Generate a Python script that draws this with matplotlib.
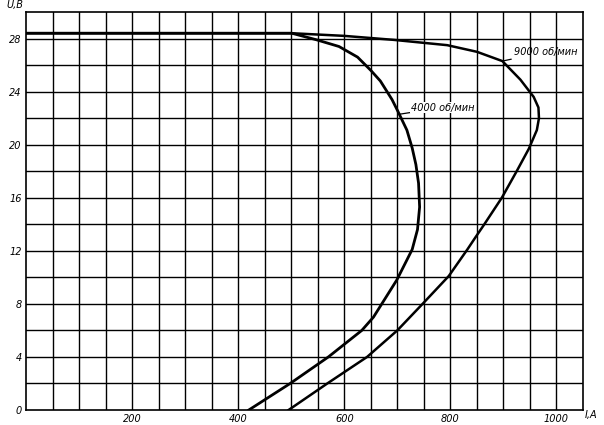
import matplotlib
matplotlib.use('Agg')
import matplotlib.pyplot as plt
import numpy as np

# Current I (A) and voltage U (V)
i_4000 = [0, 300, 501, 548, 590, 625, 650, 668, 690, 700, 718, 728, 735, 740, 742,
          738, 728, 699, 655, 633, 570, 498, 420]
u_4000 = [28.4, 28.4, 28.4, 27.9, 27.4, 26.6, 25.6, 24.8, 23.4, 22.6, 21.1, 19.75, 18.5, 17.1, 15.3,
          13.6, 12.1, 9.8, 7.0, 6.0, 4.0, 2.0, 0]

i_9000 = [0, 501, 600, 693, 794, 850, 898, 932, 957, 966, 967, 963, 948, 925, 897,
          864, 847, 832, 797, 750, 700, 643, 568, 495]
u_9000 = [28.4, 28.4, 28.2, 27.9, 27.5, 27.0, 26.3, 24.9, 23.6, 22.8, 22.0, 21.1, 19.7, 18.0, 16.0,
          14.0, 13.0, 12.1, 10.1, 8.1, 6.0, 4.0, 2.0, 0]

x_ticks = [200, 400, 600, 800, 1000]
y_ticks = [0, 4, 8, 12, 16, 20, 24, 28]

fig = plt.figure(figsize=(6.04, 4.25), dpi=100)
ax = fig.add_axes([26 / 604, 15 / 425, 557 / 604, 398 / 425])

ax.set_xlim(0, 1050)
ax.set_ylim(0, 30)

# grid every 50 A and 2 V
for x in np.arange(50, 1050, 50):
    ax.axvline(x, color='black', lw=1.0, zorder=1)
for y in np.arange(2, 30, 2):
    ax.axhline(y, color='black', lw=1.0, zorder=1)

ax.plot(i_4000, u_4000, color='black', lw=2.0, zorder=3, solid_joinstyle='round')
ax.plot(i_9000, u_9000, color='black', lw=1.8, zorder=3, solid_joinstyle='round')

for s in ax.spines.values():
    s.set_linewidth(1.2)

tfont = dict(fontsize=7, style='italic', family='DejaVu Sans')
ax.set_xticks(x_ticks)
ax.set_xticklabels([str(v) for v in x_ticks], **tfont)
ax.set_yticks(y_ticks)
ax.set_yticklabels([str(v) for v in y_ticks], **tfont)
ax.tick_params(length=0, pad=3)

ax.text(-0.02, 1.005, 'U,В', transform=ax.transAxes, ha='center', va='bottom', **tfont)
ax.text(1.015, -0.012, 'I,А', transform=ax.transAxes, ha='center', va='center', **tfont)

# curve labels with leader lines
ax.annotate('9000 об/мин', xy=(898, 26.3), xytext=(920, 27.0),
            ha='left', va='center', fontsize=7, style='italic',
            arrowprops=dict(arrowstyle='-', color='black', lw=0.9, shrinkA=0, shrinkB=0))
ax.annotate('4000 об/мин', xy=(705, 22.3), xytext=(725, 22.8),
            ha='left', va='center', fontsize=7, style='italic',
            bbox=dict(facecolor='white', edgecolor='none', pad=0.5),
            arrowprops=dict(arrowstyle='-', color='black', lw=0.9, shrinkA=0, shrinkB=0))

fig.savefig('out.png', dpi=100, facecolor='white')
